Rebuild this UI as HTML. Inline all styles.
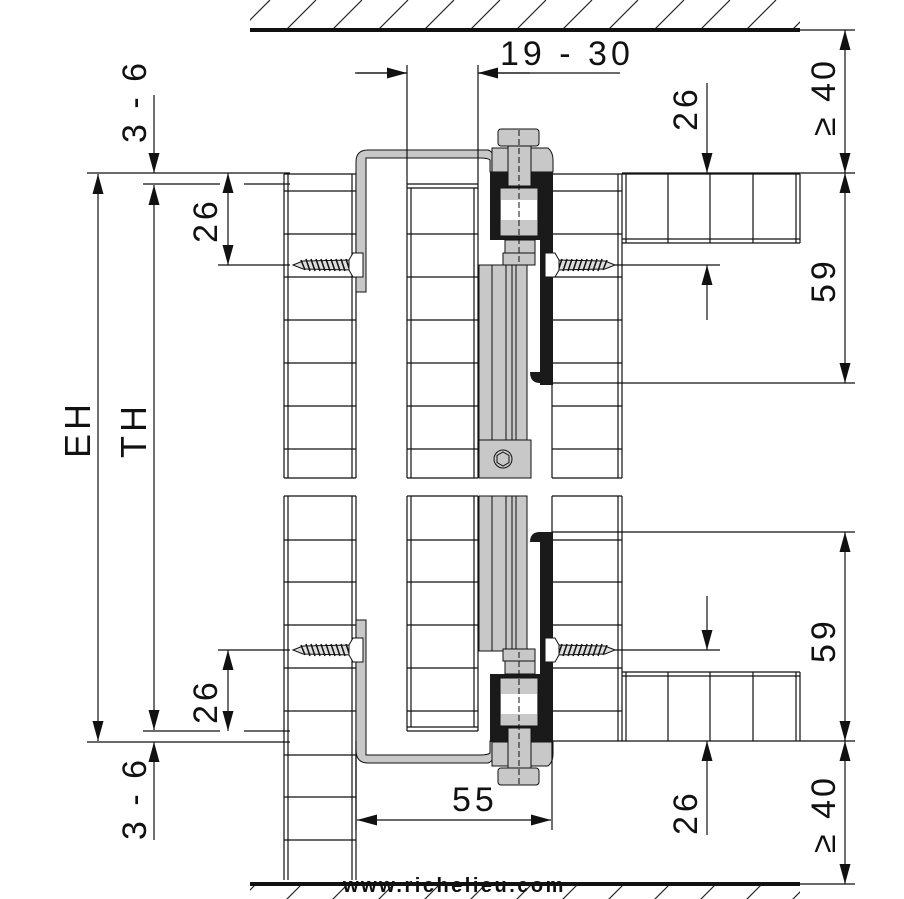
<!DOCTYPE html>
<html><head><meta charset="utf-8"><style>
html,body{margin:0;padding:0;background:#fff}
svg{display:block}
text{font-family:"Liberation Sans",Arial,sans-serif;fill:#111}
</style></head><body>
<svg width="904" height="899" viewBox="0 0 904 899" xmlns="http://www.w3.org/2000/svg">
<defs>
<marker id="ab" viewBox="0 0 10 10" refX="10" refY="5" markerWidth="20" markerHeight="11" markerUnits="userSpaceOnUse" orient="auto-start-reverse" preserveAspectRatio="none">
<path d="M0,0 L10,5 L0,10 Z" fill="#111"/>
</marker>
<pattern id="hatch" width="46" height="30" patternUnits="userSpaceOnUse">
<line x1="10" y1="30" x2="40" y2="0" stroke="#222" stroke-width="1.2"/>
</pattern>
<g id="screw">
<path d="M0,0 L10,-4 L60,-5 L60,5 L10,4 Z" fill="#ddd" stroke="#111" stroke-width="1"/>
<path d="M8,-5 l4,10 M13,-6 l4,12 M18,-6 l4,12 M23,-6 l4,12 M28,-6 l4,12 M33,-6 l4,12 M38,-6 l4,12 M43,-6 l4,12 M48,-6 l4,12 M53,-6 l4,12" stroke="#111" stroke-width="1.5"/>
<path d="M60,-12 L70,-12 L70,12 L60,12 L56,5 L56,-5 Z" fill="#fff" stroke="#111" stroke-width="1"/>
</g>
</defs>

<rect x="250" y="0" width="550" height="30" fill="url(#hatch)"/>
<line x1="250" y1="30" x2="800" y2="30" stroke="#111" stroke-width="4"/>
<rect x="250" y="886" width="550" height="13" fill="url(#hatch)"/>
<line x1="250" y1="884" x2="800" y2="884" stroke="#111" stroke-width="4"/>

<g stroke="#111" stroke-width="1.2" fill="none">
<path d="M284,174V478 M288,174V478 M352,174V478 M356,174V478"/>
<path d="M284,496V880 M288,496V880 M352,496V880 M356,496V880"/>
<path d="M284,174H356 M284,191H356 M284,234H356 M284,277H356 M284,320H356 M284,363H356 M284,406H356 M284,449H356 M284,478H356"/>
<path d="M284,496H356 M284,540H356 M284,582H356 M284,625H356 M284,668H356 M284,711H356 M284,755H356 M284,797H356 M284,840H356"/>
<path d="M407,184V478 M411,188V478 M474,188V478 M478,184V478"/>
<path d="M407,184H478 M407,188H478 M407,234H478 M407,277H478 M407,320H478 M407,363H478 M407,406H478 M407,449H478 M407,478H478"/>
<path d="M407,496V731 M411,496V727 M474,496V727 M478,496V731"/>
<path d="M407,496H478 M407,540H478 M407,582H478 M407,625H478 M407,668H478 M407,711H478 M407,727H478 M407,731H478"/>
<path d="M552,174V478 M618,174V478 M622,174V478"/>
<path d="M552,174H622 M552,191H622 M552,234H622 M552,277H622 M552,320H622 M552,363H622 M552,406H622 M552,449H622 M552,478H622"/>
<path d="M552,496V741 M618,496V741 M622,496V741"/>
<path d="M552,496H622 M552,540H622 M552,582H622 M552,625H622 M552,668H622 M552,711H622 M552,741H622"/>
<path d="M622,174H800 M626,174V243 M796,174V243 M800,174V243 M622,239H800 M622,243H800 M668,174V243 M710,174V243 M753,174V243"/>
<path d="M622,672H800 M626,672V741 M796,672V741 M800,672V741 M622,676H800 M668,672V741 M710,672V741 M753,672V741"/>
</g>

<path d="M356,292V162 Q356,150 368,150 H488 Q494,152 494,160 V172 H490 V160 Q488,158 480,158 H366 V292 Z" fill="#c8c8c8" stroke="#111" stroke-width="1"/>
<path d="M356,620 V750 Q356,763 368,763 H488 Q494,761 494,753 V741 H490 V753 Q488,755 480,755 H366 V620 Z" fill="#c8c8c8" stroke="#111" stroke-width="1"/>
<rect x="479" y="265" width="48" height="213" fill="#c8c8c8" stroke="#111" stroke-width="1"/>
<path d="M492,265V478 M506,265V478 M512,265V478 M516,265V478" stroke="#111" stroke-width="1"/>
<rect x="479" y="440" width="52" height="38" fill="#c8c8c8" stroke="#111" stroke-width="1"/>
<circle cx="503" cy="459" r="9" fill="#c8c8c8" stroke="#111"/>
<polygon points="503,452 509,455.5 509,462.5 503,466 497,462.5 497,455.5" fill="none" stroke="#111"/>
<rect x="479" y="496" width="48" height="155" fill="#c8c8c8" stroke="#111" stroke-width="1"/>
<path d="M492,496V651 M506,496V651 M512,496V651 M516,496V651" stroke="#111" stroke-width="1"/>

<g>
<rect x="498" y="129" width="41" height="17" rx="3" fill="#c8c8c8" stroke="#111"/>
<path d="M492,148 H548 Q553,152 553,160 V172 H492 Z" fill="#c8c8c8" stroke="#111"/>
<path d="M490,172 H553 V385 H540 V240 H498 V240 H490 Z" fill="#1a1a1a"/>
<rect x="500" y="188" width="38" height="48" fill="#c8c8c8" stroke="#111"/>
<rect x="501" y="200" width="36" height="20" fill="#fff"/>
<rect x="508" y="146" width="23" height="40" fill="#c8c8c8" stroke="#111"/>
<rect x="505" y="240" width="30" height="13" fill="#c8c8c8" stroke="#111"/>
<rect x="503" y="253" width="32" height="12" fill="#c8c8c8" stroke="#111"/>
<path d="M519,130V265" stroke="#111" stroke-dasharray="6,3"/>
</g>
<path d="M530,372 Q530,383 540,383 H553 V372 Z" fill="#1a1a1a"/>
<g transform="translate(0,914) scale(1,-1)">
<rect x="498" y="129" width="41" height="17" rx="3" fill="#c8c8c8" stroke="#111"/>
<path d="M492,148 H548 Q553,152 553,160 V172 H492 Z" fill="#c8c8c8" stroke="#111"/>
<path d="M490,172 H553 V382 H540 V240 H490 Z" fill="#1a1a1a"/>
<rect x="500" y="188" width="38" height="48" fill="#c8c8c8" stroke="#111"/>
<rect x="501" y="200" width="36" height="20" fill="#fff"/>
<rect x="508" y="146" width="23" height="40" fill="#c8c8c8" stroke="#111"/>
<rect x="505" y="240" width="30" height="13" fill="#c8c8c8" stroke="#111"/>
<rect x="503" y="253" width="32" height="12" fill="#c8c8c8" stroke="#111"/>
<path d="M519,130V265" stroke="#111" stroke-dasharray="6,3"/>
</g>
<path d="M530,542 Q530,532 540,532 H553 V542 Z" fill="#1a1a1a"/>

<use href="#screw" transform="translate(293,265)"/>
<use href="#screw" transform="translate(615,265) scale(-1,1)"/>
<use href="#screw" transform="translate(293,650)"/>
<use href="#screw" transform="translate(615,650) scale(-1,1)"/>

<g stroke="#111" stroke-width="1.2" fill="none">
<path d="M87,173H290 M622,173H855 M143,184H220 M244,184H290 M87,742H290 M143,731H220 M244,731H290 M622,741H855"/>
<path d="M218,265H290 M218,650H290 M615,265H720 M615,650H720"/>
<path d="M800,30H855 M552,383H855 M552,532H855 M800,884H855"/>
<path d="M407,65V184 M478,65V184 M355,73H407 M478,73H620"/>
<path d="M356,741V830 M552,741V830"/>
<line x1="98" y1="174" x2="98" y2="741" marker-start="url(#ab)" marker-end="url(#ab)" />
<line x1="154" y1="185" x2="154" y2="730" marker-start="url(#ab)" marker-end="url(#ab)"/>
<line x1="154" y1="95" x2="154" y2="173" marker-end="url(#ab)"/>
<line x1="154" y1="840" x2="154" y2="742" marker-end="url(#ab)"/>
<line x1="228" y1="173" x2="228" y2="265" marker-start="url(#ab)" marker-end="url(#ab)"/>
<line x1="228" y1="650" x2="228" y2="731" marker-start="url(#ab)" marker-end="url(#ab)"/>
<line x1="845" y1="30" x2="845" y2="173" marker-start="url(#ab)" marker-end="url(#ab)"/>
<line x1="845" y1="173" x2="845" y2="383" marker-start="url(#ab)" marker-end="url(#ab)"/>
<line x1="845" y1="532" x2="845" y2="741" marker-start="url(#ab)" marker-end="url(#ab)"/>
<line x1="845" y1="741" x2="845" y2="884" marker-start="url(#ab)" marker-end="url(#ab)"/>
<line x1="707" y1="83" x2="707" y2="173" marker-end="url(#ab)"/>
<line x1="707" y1="320" x2="707" y2="265" marker-end="url(#ab)"/>
<line x1="707" y1="596" x2="707" y2="650" marker-end="url(#ab)"/>
<line x1="707" y1="835" x2="707" y2="741" marker-end="url(#ab)"/>
<line x1="357" y1="820" x2="551" y2="820" marker-start="url(#ab)" marker-end="url(#ab)"/>
<line x1="357" y1="73" x2="407" y2="73" marker-end="url(#ab)"/>
<line x1="530" y1="73" x2="478" y2="73" marker-end="url(#ab)"/>
</g>

<g font-size="34" letter-spacing="4">
<text x="500" y="65">19 - 30</text>
<text x="452" y="811">55</text>
<text transform="translate(146,143) rotate(-90)" letter-spacing="3">3 - 6</text>
<text transform="translate(146,840) rotate(-90)" letter-spacing="3">3 - 6</text>
<text transform="translate(217,243) rotate(-90)">26</text>
<text transform="translate(217,724) rotate(-90)">26</text>
<text transform="translate(90,458) rotate(-90)" font-size="36">EH</text>
<text transform="translate(146,458) rotate(-90)" font-size="36">TH</text>
<text transform="translate(697,131) rotate(-90)">26</text>
<text transform="translate(697,835) rotate(-90)">26</text>
<text transform="translate(835,303) rotate(-90)">59</text>
<text transform="translate(835,663) rotate(-90)">59</text>
<text transform="translate(835,136) rotate(-90)" letter-spacing="3">≥ 40</text>
<text transform="translate(835,853) rotate(-90)" letter-spacing="3">≥ 40</text>
</g>
<text x="343" y="892" font-size="20" font-weight="bold" fill="#222" letter-spacing="2.5">www.richelieu.com</text>
</svg>
</body></html>
